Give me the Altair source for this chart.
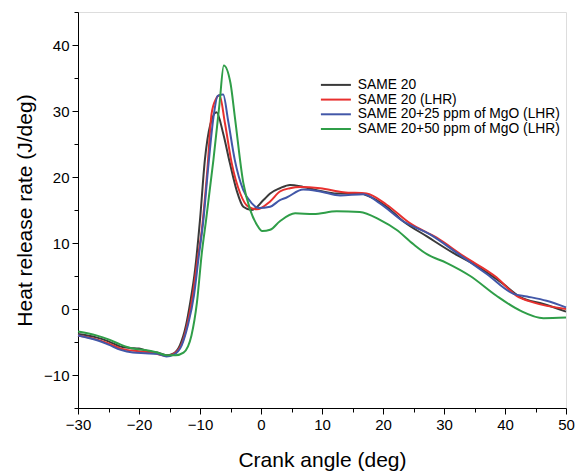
import altair as alt
import pandas as pd

series_names = ["SAME 20", "SAME 20 (LHR)", "SAME 20+25 ppm of MgO (LHR)", "SAME 20+50 ppm of MgO (LHR)"]
series_colors = ["#3a3a3a", "#e8302e", "#4257a8", "#2f9e48"]

x_same20 = [-30, -27, -25, -23, -21.5, -20, -18.5, -17, -15.5, -14.5, -13.3, -12.3, -11.6, -10.8, -10.0, -9.2, -8.3, -7.3,
            -6.2, -5.1, -4.0, -2.9, -1.5, 0.4, 1.5, 3.1, 4.75, 6.9, 9.7, 12.4, 16.2, 17.9, 20.6, 23.3, 27.2, 31.5, 35.4,
            39.7, 42.5, 46.3, 50]
y_same20 = [-3.8, -4.3, -4.9, -5.7, -5.9, -6.0, -6.4, -6.6, -7.0, -6.8, -5.5, -2.5, 1.0, 6.0, 13.5, 22.6, 28.0, 29.8,
            26.6, 22.1, 18.0, 15.5, 15.0, 16.5, 17.5, 18.3, 18.8, 18.5, 17.9, 17.5, 17.5, 17.0, 15.5, 13.3, 11.0, 8.5, 6.5,
            3.8, 1.8, 0.75, -0.4]

x_lhr = [-30, -27, -25, -23, -20, -18, -15.5, -14.3, -13, -12, -11.2, -10.4, -9.7, -8.8, -8.1, -7.4, -6.8, -5.9, -4.8,
         -3.4, -2.1, -0.7, 1.5, 3.1, 4.75, 6.4, 9.7, 13.5, 17.3, 20.6, 24.4, 28.8, 33.2, 38.6, 41.9, 44.6, 50]
y_lhr = [-4.0, -4.6, -5.2, -6.0, -6.4, -6.6, -7.1, -6.8, -5.3, -2.0, 2.0, 7.5, 12.0, 21.0, 29.6, 31.8, 32.4, 28.1, 22.1,
         17.5, 15.5, 15.1, 16.3, 17.8, 18.3, 18.5, 18.3, 17.7, 17.5, 15.8, 13.0, 10.8, 8.0, 4.8, 2.0, 1.0, 0.0]

x_mgo25 = [-30, -27, -25, -23, -21, -19, -17, -15.5, -14.3, -13, -12, -11, -10.2, -9.5, -8.6, -7.8, -7.1, -6.2, -5.4,
           -4.3, -2.9, -1.5, -0.4, 1.5, 3.1, 4.2, 6.9, 9.7, 13, 16.8, 19.5, 23.3, 27.7, 32.1, 37, 41.4, 43.6, 46.8, 50]
y_mgo25 = [-4.0, -4.7, -5.4, -6.2, -6.6, -6.7, -6.8, -7.2, -6.9, -5.5, -2.5, 2.0, 8.0, 13.0, 22.0, 29.0, 32.3, 32.5, 28.6,
           22.6, 18.0, 16.0, 15.3, 15.5, 16.5, 16.9, 18.1, 17.8, 17.2, 17.4, 16.0, 13.3, 11.3, 8.5, 5.3, 2.3, 1.9, 1.25, 0.25]

x_mgo50 = [-30, -27, -25, -23, -21, -19, -17, -15.5, -14, -12.7, -11.4, -10.5, -9.7, -9.0, -7.8, -6.8, -6.1, -5.0, -4.3,
           -2.9, -1.8, -0.7, 0.2, 1.5, 3.1, 5.6, 8.6, 12.4, 16.2, 19.5, 22.2, 25, 27.2, 30.4, 34.3, 38.6, 42.5, 46.3, 50]
y_mgo50 = [-3.4, -4.0, -4.6, -5.4, -6.0, -6.2, -6.6, -7.0, -7.0, -6.6, -4.0, 1.0, 8.5, 13.5, 22.6, 31.1, 36.9, 34.2, 29.2,
           19.1, 15.1, 12.8, 11.8, 12.0, 13.3, 14.5, 14.4, 14.8, 14.7, 13.5, 12.0, 9.8, 8.3, 7.0, 5.0, 2.0, -0.25, -1.4, -1.3]

rows = []
for name, xs, ys in zip(series_names, [x_same20, x_lhr, x_mgo25, x_mgo50], [y_same20, y_lhr, y_mgo25, y_mgo50]):
    for a, b in zip(xs, ys):
        rows.append({"series": name, "x": a, "y": b})
df = pd.DataFrame(rows)

FONT = "Liberation Sans"

x_axis = alt.Axis(
    values=list(range(-30, 51, 5)),
    labelExpr="datum.value % 10 === 0 ? datum.label : ''",
    tickSize={"condition": {"test": "datum.value % 10 === 0", "value": 6}, "value": 4},
    title="Crank angle (deg)", grid=False, domainColor="black", tickColor="black",
    labelColor="black", titleColor="black", labelFontSize=15, titleFontSize=21,
    titleFontWeight="normal", labelFont=FONT, titleFont=FONT, labelPadding=3, titlePadding=17,
    labelFlush=False,
)
y_axis = alt.Axis(
    values=list(range(-15, 46, 5)),
    labelExpr="datum.value % 10 === 0 ? datum.label : ''",
    tickSize={"condition": {"test": "datum.value % 10 === 0", "value": 6}, "value": 4},
    title="Heat release rate (J/deg)", grid=False, domainColor="black", tickColor="black",
    labelColor="black", titleColor="black", labelFontSize=15, titleFontSize=21,
    titleFontWeight="normal", labelFont=FONT, titleFont=FONT, labelPadding=3, titlePadding=8,
    labelFlush=False,
)

chart = alt.Chart(df).mark_line(strokeWidth=2, interpolate="monotone").encode(
    x=alt.X("x:Q", scale=alt.Scale(domain=[-30, 50], nice=False, zero=False), axis=x_axis),
    y=alt.Y("y:Q", scale=alt.Scale(domain=[-15, 45], nice=False, zero=False), axis=y_axis),
    color=alt.Color(
        "series:N",
        scale=alt.Scale(domain=series_names, range=series_colors),
        legend=alt.Legend(
            title=None, orient="none", legendX=236, legendY=66, symbolType="M0,0H6",
            symbolSize=100, symbolStrokeWidth=2, labelFontSize=13.8, labelFont=FONT,
            labelColor="black", labelOffset=30, rowPadding=-0.3, padding=0, labelLimit=400,
        ),
    ),
).properties(
    width=488, height=396,
    padding={"left": 78, "top": 12, "right": 11, "bottom": 64},
    autosize="none",
).configure_view(stroke=None).configure(background="white")

chart.save("out.html", embed_options={"renderer": "svg", "actions": False})
